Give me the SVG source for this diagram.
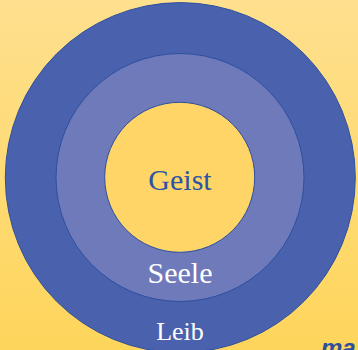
<svg xmlns="http://www.w3.org/2000/svg" width="358" height="350" viewBox="0 0 358 350">
  <defs>
    <linearGradient id="bg" x1="0" y1="0" x2="0" y2="1">
      <stop offset="0" stop-color="#fee08e"/>
      <stop offset="1" stop-color="#fed55b"/>
    </linearGradient>
  </defs>
  <style>
    .ring { stroke: #2d4f9e; stroke-width: 1; }
    .lbl { font-family: "Liberation Serif", "Times New Roman", serif; text-anchor: middle; }
  </style>
  <rect x="0" y="0" width="358" height="350" fill="url(#bg)"/>
  <g id="leib">
    <circle class="ring" cx="180.3" cy="177.6" r="175" fill="#4a62ae"/>
    <text class="lbl" x="180" y="340" font-size="26" fill="#ffffff">Leib</text>
  </g>
  <g id="seele">
    <circle class="ring" cx="180" cy="177.5" r="124" fill="#6f7abb"/>
    <text class="lbl" x="180" y="283.3" font-size="30" fill="#ffffff">Seele</text>
  </g>
  <g id="geist">
    <circle class="ring" cx="179.7" cy="177.3" r="75" fill="#fed566"/>
    <text class="lbl" x="180" y="189.5" font-size="30" fill="#2c54a4">Geist</text>
  </g>
  <text x="321" y="355.5" font-family="Liberation Sans, Arial, sans-serif" font-size="24" font-weight="bold" font-style="italic" fill="#2b4f9c">ma</text>
</svg>
